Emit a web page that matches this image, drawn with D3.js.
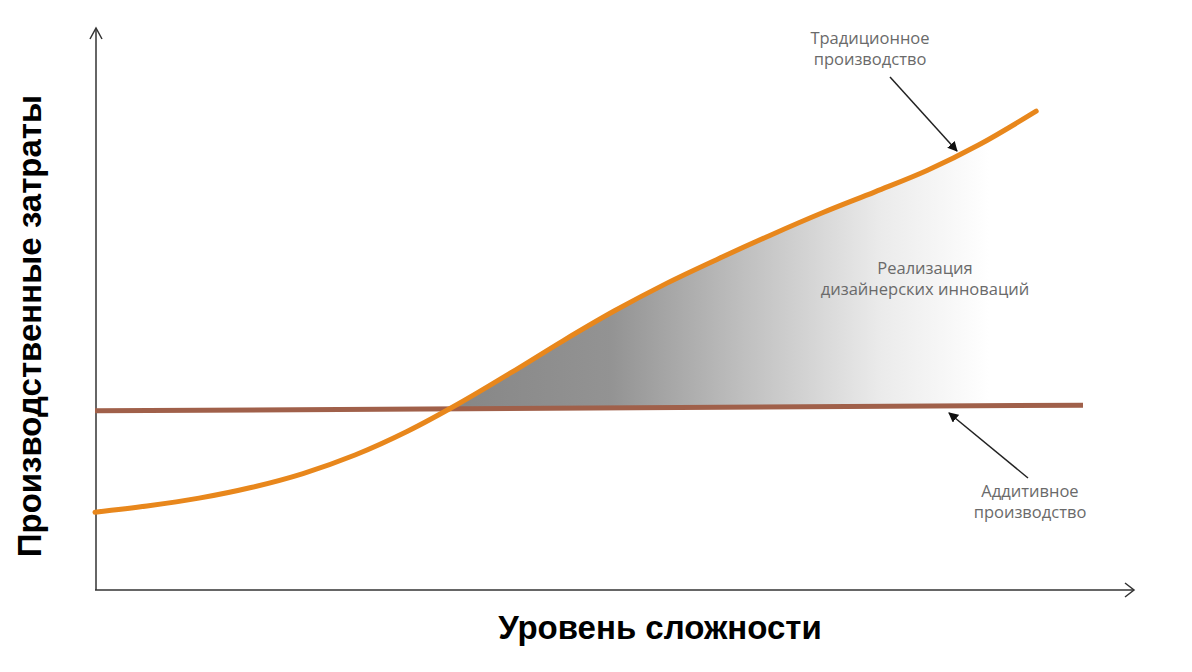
<!DOCTYPE html>
<html><head><meta charset="utf-8">
<script src="https://cdn.jsdelivr.net/npm/d3@7"></script>
<style>body{margin:0;background:#fff}svg{display:block}</style>
</head><body>
<svg id="c" width="1192" height="672"></svg>
<script>
// Data (arbitrary units)
const complexity = [0,0.5,1,1.5,2,2.5,3,3.5,4,4.5,5,5.5,6,6.5,7,7.5,8,8.5,9.05];
const traditionalCost = [1.39,1.50,1.64,1.83,2.08,2.41,2.83,3.33,3.88,4.45,4.99,5.48,5.92,6.34,6.74,7.11,7.49,7.95,8.55];
const additiveX = [0, 9.5];
const additiveCost = [3.20, 3.30];
const yTitle = "Производственные затраты";
const xTitle = "Уровень сложности";
const labelTraditional = ["Традиционное","производство"];
const labelAdditive = ["Аддитивное","производство"];
const labelArea = ["Реализация","дизайнерских инноваций"];

const svg = d3.select("#c");
const x = d3.scaleLinear().domain([0,10]).range([95,1135]);
const y = d3.scaleLinear().domain([0,10]).range([590,30]);
const addAt = d3.scaleLinear().domain(additiveX).range(additiveCost);

const defs = svg.append("defs");
const grad = defs.append("linearGradient").attr("id","g").attr("gradientUnits","userSpaceOnUse")
  .attr("x1",x(3.4)).attr("x2",x(8.6)).attr("y1",0).attr("y2",0);
[[0,"#868686"],[0.3,"#939393"],[0.55,"#c0c0c0"],[0.8,"#ebebeb"],[1,"#ffffff"]].forEach(s=>
  grad.append("stop").attr("offset",s[0]).attr("stop-color",s[1]));

// clip: region above additive line
defs.append("clipPath").attr("id","above").append("path")
  .attr("d",`M${x(0)},${y(addAt(0))}L${x(10)},${y(addAt(10))}L${x(10)},0L${x(0)},0Z`);

const curve = d3.curveMonotoneX;
const pts = complexity.map((c,i)=>({c, t:traditionalCost[i]}));
svg.append("path").datum(pts)
  .attr("clip-path","url(#above)")
  .attr("fill","url(#g)")
  .attr("d", d3.area().curve(curve).x(d=>x(d.c)).y0(d=>y(addAt(d.c))).y1(d=>y(d.t)));

// Axes
const ax = svg.append("g").attr("stroke","#333").attr("stroke-width",1.5).attr("fill","none");
ax.append("line").attr("x1",x(0)+1).attr("y1",y(0)).attr("x2",x(0)+1).attr("y2",y(10)-1);
ax.append("path").attr("d",`M${x(0)-5},${y(10)+9}L${x(0)+1},${y(10)-2}L${x(0)+7},${y(10)+9}`);
ax.append("line").attr("x1",x(0)).attr("y1",y(0)).attr("x2",x(10)-1).attr("y2",y(0));
ax.append("path").attr("d",`M${x(10)-10},${y(0)-7}L${x(10)-1},${y(0)}L${x(10)-10},${y(0)+7}`);

// Additive line
svg.append("path").datum(additiveX.map((c,i)=>({c, v:additiveCost[i]})))
  .attr("fill","none").attr("stroke","#a0604a").attr("stroke-width",5)
  .attr("d", d3.line().x(d=>x(d.c)).y(d=>y(d.v)));

// Traditional curve
svg.append("path").datum(pts)
  .attr("fill","none").attr("stroke","#e8871c").attr("stroke-width",5).attr("stroke-linecap","round")
  .attr("d", d3.line().curve(curve).x(d=>x(d.c)).y(d=>y(d.t)));

// arrow markers
defs.append("marker").attr("id","ah").attr("viewBox","0 0 10 10").attr("refX",9).attr("refY",5)
  .attr("markerWidth",10).attr("markerHeight",10).attr("markerUnits","userSpaceOnUse").attr("orient","auto")
  .append("path").attr("d","M0,0L10,5L0,10Z").attr("fill","#111");

svg.append("line").attr("x1",890).attr("y1",77).attr("x2",957).attr("y2",151)
  .attr("stroke","#222").attr("stroke-width",1.5).attr("marker-end","url(#ah)");
svg.append("line").attr("x1",1028).attr("y1",478).attr("x2",949).attr("y2",413)
  .attr("stroke","#222").attr("stroke-width",1.5).attr("marker-end","url(#ah)");

// Labels
function label(lines, cx, cy){
  const t = svg.append("text").attr("text-anchor","middle").attr("fill","#6a6a6a")
    .attr("font-family","'Open Sans', sans-serif").attr("font-size",16.5);
  lines.forEach((l,i)=>t.append("tspan").attr("x",cx).attr("y",cy+i*21).text(l));
}
label(labelTraditional, 870, 44);
label(labelArea, 925, 274);
label(labelAdditive, 1030, 497);

svg.append("text").attr("transform",`translate(41,326) rotate(-90)`).attr("text-anchor","middle")
  .attr("font-family","'Liberation Sans', Arial, sans-serif").attr("font-weight","bold").attr("font-size",33)
  .attr("fill","#000").text(yTitle);
svg.append("text").attr("x",660).attr("y",639).attr("text-anchor","middle")
  .attr("font-family","'Liberation Sans', Arial, sans-serif").attr("font-weight","bold").attr("font-size",33)
  .attr("fill","#000").text(xTitle);
</script>
</body></html>
